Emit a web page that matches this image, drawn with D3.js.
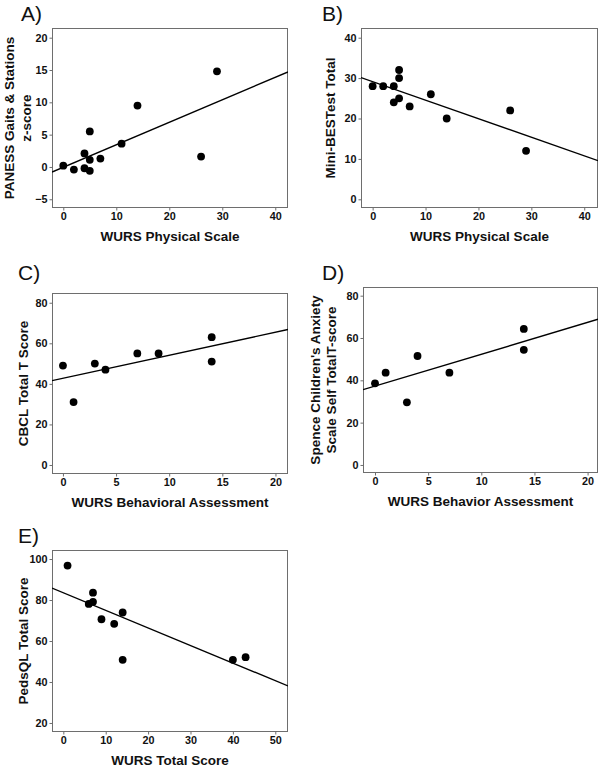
<!DOCTYPE html>
<html>
<head>
<meta charset="utf-8">
<script src="https://cdn.jsdelivr.net/npm/d3@7"></script>
<style>
  body { margin: 0; background: #fff; }
  svg { display: block; }
  text { font-family: "Liberation Sans", Arial, Helvetica, sans-serif; }
</style>
</head>
<body>
<svg id="chart" width="600" height="769"></svg>
<script>
// ---- Data ----
const panelLabels = ["A)", "B)", "C)", "D)", "E)"];

const xA = [0, 2, 4, 4, 5, 5, 5, 7, 11, 14, 26, 29];
const yA = [0.2, -0.4, 2.1, -0.2, -0.6, 1.1, 5.5, 1.3, 3.6, 9.5, 1.6, 14.8];

const xB = [0, 2, 4, 4, 5, 5, 5, 7, 11, 14, 26, 29];
const yB = [28, 28, 28, 24, 32, 30, 25, 23, 26, 20, 22, 12];

const xC = [0, 1, 3, 4, 7, 9, 14, 14];
const yC = [49, 31, 50, 47, 55, 55, 63, 51];

const xD = [0, 1, 3, 4, 7, 14, 14];
const yD = [38.6, 43.6, 29.6, 51.5, 43.6, 64.3, 54.4];

const xE = [1, 6, 7, 7, 9, 12, 14, 14, 40, 43];
const yE = [96.8, 78.1, 83.6, 79.1, 70.6, 68.4, 73.9, 50.8, 50.8, 52.1];

const xTitles = ["WURS Physical Scale", "WURS Physical Scale", "WURS Behavioral Assessment", "WURS Behavior Assessment", "WURS Total Score"];
const yTitles = [["PANESS Gaits & Stations", "z-score"], ["Mini-BESTest Total"], ["CBCL Total T Score"], ["Spence Children's Anxiety", "Scale Self TotalT-score"], ["PedsQL Total Score"]];

const xTicksA = [0, 10, 20, 30, 40];
const yTicksA = [-5, 0, 5, 10, 15, 20];
const xTicksB = [0, 10, 20, 30, 40];
const yTicksB = [0, 10, 20, 30, 40];
const xTicksC = [0, 5, 10, 15, 20];
const yTicksC = [0, 20, 40, 60, 80];
const xTicksD = [0, 5, 10, 15, 20];
const yTicksD = [0, 20, 40, 60, 80];
const xTicksE = [0, 10, 20, 30, 40, 50];
const yTicksE = [20, 40, 60, 80, 100];

const xDomains = [[-2.13, 42.4], [-2.2, 42.6], [-1.03, 21.18], [-1.13, 20.98], [-2.67, 53.0]];
const yDomains = [[-6.35, 21.5], [-2.15, 42.4], [-4.44, 84.8], [-3.8, 84.1], [15.6, 104.4]];

// ---- Layout ----
const frames = [
  {l: 52, r: 288, t: 28, b: 208, lx: 21, ly: 20.7},
  {l: 361, r: 598, t: 28, b: 208, lx: 322, ly: 20.7},
  {l: 52, r: 288, t: 293, b: 474, lx: 18, ly: 280},
  {l: 363, r: 598, t: 287, b: 473, lx: 322, ly: 280},
  {l: 52, r: 288, t: 550, b: 732, lx: 18, ly: 543}
];
const yTitleX = [[13.5, 30.5], [335], [28], [320, 336], [28]];

const panels = [
  {x: xA, y: yA, xt: xTicksA, yt: yTicksA},
  {x: xB, y: yB, xt: xTicksB, yt: yTicksB},
  {x: xC, y: yC, xt: xTicksC, yt: yTicksC},
  {x: xD, y: yD, xt: xTicksD, yt: yTicksD},
  {x: xE, y: yE, xt: xTicksE, yt: yTicksE}
];

const svg = d3.select("#chart");
const frameColor = "#6e6e6e";

panels.forEach((p, i) => {
  const f = frames[i];
  const xs = d3.scaleLinear().domain(xDomains[i]).range([f.l, f.r]);
  const ys = d3.scaleLinear().domain(yDomains[i]).range([f.b, f.t]);
  const g = svg.append("g");

  // panel label
  svg.append("text").attr("x", f.lx).attr("y", f.ly)
    .attr("font-size", 21).attr("fill", "#111").text(panelLabels[i]);

  // clip
  const clipId = "clip" + i;
  svg.append("clipPath").attr("id", clipId).append("rect")
    .attr("x", f.l).attr("y", f.t).attr("width", f.r - f.l).attr("height", f.b - f.t);

  // frame
  g.append("rect").attr("x", f.l + 0.5).attr("y", f.t + 0.5)
    .attr("width", f.r - f.l - 1).attr("height", f.b - f.t - 1)
    .attr("fill", "none").attr("stroke", frameColor).attr("stroke-width", 1);

  // axes
  const xAxis = d3.axisBottom(xs).tickValues(p.xt).tickSize(3).tickSizeOuter(0).tickPadding(2);
  const yAxis = d3.axisLeft(ys).tickValues(p.yt).tickSize(3).tickSizeOuter(0).tickPadding(2);
  const gx = g.append("g").attr("transform", `translate(0,${f.b - 0.5})`).call(xAxis);
  const gy = g.append("g").attr("transform", `translate(${f.l + 0.5},0)`).call(yAxis);
  [gx, gy].forEach(a => {
    a.select(".domain").remove();
    a.selectAll(".tick line").attr("stroke", frameColor);
    a.selectAll(".tick text").attr("font-size", 10.8).attr("font-weight", "bold")
      .attr("fill", "#111").attr("font-family", "Liberation Sans, Arial, sans-serif");
  });

  // regression line (least squares from the data)
  const mx = d3.mean(p.x), my = d3.mean(p.y);
  let sxy = 0, sxx = 0;
  p.x.forEach((xv, k) => { sxy += (xv - mx) * (p.y[k] - my); sxx += (xv - mx) * (xv - mx); });
  const slope = sxy / sxx, icpt = my - slope * mx;
  const dom = xDomains[i];
  g.append("line")
    .attr("clip-path", `url(#${clipId})`)
    .attr("x1", xs(dom[0])).attr("y1", ys(icpt + slope * dom[0]))
    .attr("x2", xs(dom[1])).attr("y2", ys(icpt + slope * dom[1]))
    .attr("stroke", "#000").attr("stroke-width", 1.4);

  // points
  g.selectAll("circle.pt").data(p.x.map((xv, k) => [xv, p.y[k]])).enter()
    .append("circle").attr("class", "pt")
    .attr("cx", d => xs(d[0])).attr("cy", d => ys(d[1]))
    .attr("r", 3.9).attr("fill", "#000");

  // x title
  g.append("text").attr("x", (f.l + f.r) / 2).attr("y", f.b + 33)
    .attr("text-anchor", "middle").attr("font-size", 13.5).attr("font-weight", "bold")
    .attr("fill", "#111").text(xTitles[i]);

  // y title
  const cy = (f.t + f.b) / 2;
  yTitles[i].forEach((line, k) => {
    const bx = yTitleX[i][k];
    g.append("text").attr("transform", `translate(${bx},${cy}) rotate(-90)`)
      .attr("text-anchor", "middle").attr("font-size", 13.5).attr("font-weight", "bold")
      .attr("fill", "#111").text(line);
  });
});
</script>
</body>
</html>
